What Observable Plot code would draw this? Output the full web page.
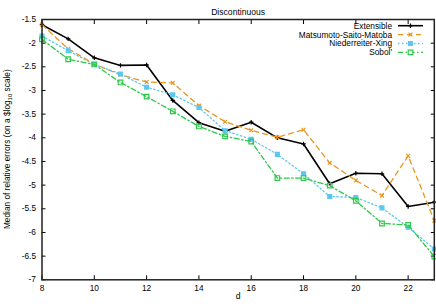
<!DOCTYPE html>
<html><head><meta charset="utf-8">
<script src="https://cdn.jsdelivr.net/npm/d3@7"></script>
<script src="https://cdn.jsdelivr.net/npm/@observablehq/plot@0.6"></script>
<style>body{margin:0;background:#fff} svg{display:block}</style>
</head><body><div id="chart"></div>
<script>
const dims = [8,9,10,11,12,13,14,15,16,17,18,19,20,21,22,23];
const extensible   = [-1.61,-1.91,-2.31,-2.47,-2.46,-3.21,-3.68,-3.86,-3.67,-4.00,-4.13,-4.97,-4.75,-4.76,-5.45,-5.36];
const matsumoto    = [-1.61,-2.12,-2.44,-2.67,-2.82,-2.84,-3.32,-3.66,-3.84,-3.99,-3.83,-4.53,-4.90,-5.22,-4.38,-5.75];
const niederreiter = [-1.85,-2.16,-2.45,-2.65,-2.93,-3.09,-3.36,-3.85,-4.03,-4.35,-4.76,-5.24,-5.26,-5.48,-5.89,-6.35];
const sobol        = [-1.92,-2.34,-2.45,-2.83,-3.13,-3.44,-3.76,-3.97,-4.08,-4.85,-4.85,-5.01,-5.33,-5.81,-5.84,-6.51];
const seriesNames = ["Extensible","Matsumoto-Saito-Matoba","Niederreiter-Xing","Sobol'"];
const xTicks = [8,10,12,14,16,18,20,22];
const yTicks = [-7,-6.5,-6,-5.5,-5,-4.5,-4,-3.5,-3,-2.5,-2,-1.5];
const title = "Discontinuous";
const xLabel = "d";

const plusSym = {draw(ctx, size){const r=Math.sqrt(size)/2; ctx.moveTo(-r,0);ctx.lineTo(r,0);ctx.moveTo(0,-r);ctx.lineTo(0,r);}};
const timesSym = {draw(ctx, size){const r=Math.sqrt(size)/2.6; ctx.moveTo(-r,-r);ctx.lineTo(r,r);ctx.moveTo(-r,r);ctx.lineTo(r,-r);}};

const styles = [
  {color:"#000000", dash:null, width:1.6, symbol:plusSym, fill:"none", r:2.5},
  {color:"#e8961e", dash:"5,4", width:1.3, symbol:timesSym, fill:"none", r:2.8},
  {color:"#5cc8f0", dash:"1.5,2.5", width:1.3, symbol:"square", fill:"#5cc8f0", r:2.2},
  {color:"#2ec84a", dash:"5,2.5,1.5,2.5", width:1.3, symbol:"square", fill:"none", r:2.6}
];
const values = [extensible, matsumoto, niederreiter, sobol];
const data = values.map((vals,i)=>vals.map((v,j)=>({d:dims[j], v, s:seriesNames[i]})));

const font = "Liberation Sans, Arial, sans-serif";
const W = 436, H = 306;
const mL = 41.5, mR = 2.2, mT = 19, mB = 26.7;

const marks = [];
data.forEach((rows,i)=>{
  const st = styles[i];
  marks.push(Plot.line(rows,{x:"d",y:"v",stroke:st.color,strokeWidth:st.width,strokeDasharray:st.dash}));
  marks.push(Plot.dot(rows,{x:"d",y:"v",symbol:()=>st.symbol,r:st.r,stroke:st.color,fill:st.fill,strokeWidth:1.2}));
});

const plot = Plot.plot({
  width: W, height: H,
  marginLeft: mL, marginRight: mR, marginTop: mT, marginBottom: mB,
  style: {fontFamily: font, fontSize: "8.3px", background:"#fff", color:"#000"},
  x: {domain:[8,23]},
  y: {domain:[-7,-1.5]},
  symbol: {type:"identity"},
  marks: [
    Plot.axisX({ticks:xTicks, tickSize:-4, text:null, label:null, anchor:"bottom", strokeWidth:1}),
    Plot.axisX({ticks:xTicks, tickSize:-4, text:null, label:null, anchor:"top", strokeWidth:1}),
    Plot.axisX({ticks:xTicks, tickSize:0, tickPadding:5, tickFormat:d=>String(d), label:null, anchor:"bottom", fontSize:8.3}),
    Plot.axisY({ticks:yTicks, tickSize:-4, text:null, label:null, anchor:"left", strokeWidth:1}),
    Plot.axisY({ticks:yTicks, tickSize:-4, text:null, label:null, anchor:"right", strokeWidth:1}),
    Plot.axisY({ticks:yTicks, tickSize:0, tickPadding:6, tickFormat:d=>String(d), label:null, anchor:"left", fontSize:8.3}),
    ...marks,
    Plot.frame({stroke:"#222", strokeWidth:1.5}),
    Plot.text([title],{frameAnchor:"top", dy:-11, text:d=>d, fontSize:8.6}),
    Plot.text([xLabel],{frameAnchor:"bottom", dy:19, text:d=>d, fontSize:8.6})
  ]
});

const svg = d3.select(plot);
// y label with subscript
const yl = svg.append("text")
  .attr("transform", `translate(10,${(mT + H - mB)/2}) rotate(-90)`)
  .attr("text-anchor","middle")
  .attr("font-family", font).attr("font-size", 8.3).attr("fill","#000");
yl.append("tspan").text("Median of relative errors (on a $log");
yl.append("tspan").attr("font-size",6).attr("dy",2).text("10");
yl.append("tspan").attr("dy",-2).text(" scale)");

// legend
const lg = svg.append("g");
const rowY0 = 25.7, rowStep = 8.9;
const textRight = 392, lineX1 = 398, lineX2 = 423, markX = 410.5;
seriesNames.forEach((name,i)=>{
  const st = styles[i];
  const y = rowY0 + i*rowStep;
  lg.append("text").attr("x",textRight).attr("y",y).attr("dy","0.35em")
    .attr("text-anchor","end").attr("font-family",font).attr("font-size",8.3).attr("fill","#000").text(name);
  lg.append("line").attr("x1",lineX1).attr("x2",lineX2).attr("y1",y).attr("y2",y)
    .attr("stroke",st.color).attr("stroke-width",st.width).attr("stroke-dasharray",st.dash);
  const sym = typeof st.symbol === "string" ? d3.symbolSquare : st.symbol;
  lg.append("path").attr("transform",`translate(${markX},${y})`)
    .attr("d", d3.symbol(sym, st.r*st.r*Math.PI)())
    .attr("stroke",st.color).attr("fill",st.fill==="none"?"#fff":st.fill).attr("stroke-width",1.2);
});

document.getElementById("chart").appendChild(plot);
</script>
</body></html>
